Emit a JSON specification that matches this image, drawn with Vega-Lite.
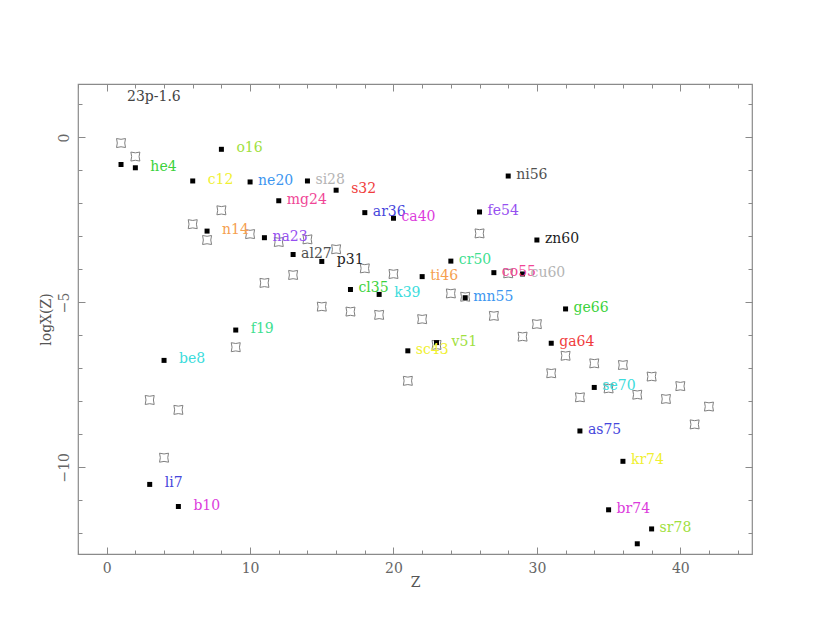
{
  "$schema": "https://vega.github.io/schema/vega-lite/v6.json",
  "autosize": {"type": "none"},
  "padding": {"left": 78, "top": 84, "right": 78, "bottom": 86},
  "width": 674,
  "height": 470,
  "background": "white",
  "title": {"text": "23p-1.6", "anchor": "start", "frame": "group", "orient": "top", "offset": -31, "dx": 49, "baseline": "alphabetic", "font": "DejaVu Serif", "fontSize": 14, "fontWeight": "normal", "color": "#444444"},
  "config": {
    "view": {"stroke": "#8a8a8a", "strokeWidth": 1.2},
    "axis": {"domain": false, "grid": false, "tickColor": "#8a8a8a", "labelColor": "#666666", "labelFont": "DejaVu Serif", "labelFontSize": 14, "titleFont": "DejaVu Serif", "titleFontSize": 14, "titleFontWeight": "normal", "titleColor": "#555555"}
  },
  "datasets": {
    "model": [
      {"Z": 1, "logX": -0.82, "iso": ""},
      {"Z": 2, "logX": -0.92, "iso": "he4"},
      {"Z": 3, "logX": -10.52, "iso": "li7"},
      {"Z": 4, "logX": -6.76, "iso": "be8"},
      {"Z": 5, "logX": -11.19, "iso": "b10"},
      {"Z": 6, "logX": -1.32, "iso": "c12"},
      {"Z": 7, "logX": -2.84, "iso": "n14"},
      {"Z": 8, "logX": -0.36, "iso": "o16"},
      {"Z": 9, "logX": -5.84, "iso": "f19"},
      {"Z": 10, "logX": -1.35, "iso": "ne20"},
      {"Z": 11, "logX": -3.04, "iso": "na23"},
      {"Z": 12, "logX": -1.92, "iso": "mg24"},
      {"Z": 13, "logX": -3.55, "iso": "al27"},
      {"Z": 14, "logX": -1.32, "iso": "si28"},
      {"Z": 15, "logX": -3.76, "iso": "p31"},
      {"Z": 16, "logX": -1.60, "iso": "s32"},
      {"Z": 17, "logX": -4.61, "iso": "cl35"},
      {"Z": 18, "logX": -2.28, "iso": "ar36"},
      {"Z": 19, "logX": -4.76, "iso": "k39"},
      {"Z": 20, "logX": -2.45, "iso": "ca40"},
      {"Z": 21, "logX": -6.47, "iso": "sc43"},
      {"Z": 22, "logX": -4.22, "iso": "ti46"},
      {"Z": 23, "logX": -6.22, "iso": "v51"},
      {"Z": 24, "logX": -3.75, "iso": "cr50"},
      {"Z": 25, "logX": -4.86, "iso": "mn55"},
      {"Z": 26, "logX": -2.26, "iso": "fe54"},
      {"Z": 27, "logX": -4.10, "iso": "co55"},
      {"Z": 28, "logX": -1.17, "iso": "ni56"},
      {"Z": 29, "logX": -4.14, "iso": "cu60"},
      {"Z": 30, "logX": -3.11, "iso": "zn60"},
      {"Z": 31, "logX": -6.24, "iso": "ga64"},
      {"Z": 32, "logX": -5.20, "iso": "ge66"},
      {"Z": 33, "logX": -8.90, "iso": "as75"},
      {"Z": 34, "logX": -7.58, "iso": "se70"},
      {"Z": 35, "logX": -11.29, "iso": "br74"},
      {"Z": 36, "logX": -9.82, "iso": "kr74"},
      {"Z": 37, "logX": -12.32, "iso": ""},
      {"Z": 38, "logX": -11.87, "iso": "sr78"}
    ],
    "ref": [
      {"Z": 1, "logX": -0.17}, {"Z": 2, "logX": -0.58}, {"Z": 3, "logX": -7.96}, {"Z": 4, "logX": -9.71},
      {"Z": 5, "logX": -8.26}, {"Z": 6, "logX": -2.63}, {"Z": 7, "logX": -3.11}, {"Z": 8, "logX": -2.21},
      {"Z": 9, "logX": -6.36}, {"Z": 10, "logX": -2.93}, {"Z": 11, "logX": -4.41}, {"Z": 12, "logX": -3.17},
      {"Z": 13, "logX": -4.17}, {"Z": 14, "logX": -3.09}, {"Z": 15, "logX": -5.13}, {"Z": 16, "logX": -3.39},
      {"Z": 17, "logX": -5.28}, {"Z": 18, "logX": -3.97}, {"Z": 19, "logX": -5.38}, {"Z": 20, "logX": -4.14},
      {"Z": 21, "logX": -7.38}, {"Z": 22, "logX": -5.51}, {"Z": 23, "logX": -6.29}, {"Z": 24, "logX": -4.73},
      {"Z": 25, "logX": -4.83}, {"Z": 26, "logX": -2.91}, {"Z": 27, "logX": -5.41}, {"Z": 28, "logX": -4.12},
      {"Z": 29, "logX": -6.04}, {"Z": 30, "logX": -5.66}, {"Z": 31, "logX": -7.15}, {"Z": 32, "logX": -6.62},
      {"Z": 33, "logX": -7.88}, {"Z": 34, "logX": -6.85}, {"Z": 35, "logX": -7.61}, {"Z": 36, "logX": -6.90},
      {"Z": 37, "logX": -7.80}, {"Z": 38, "logX": -7.25}, {"Z": 39, "logX": -7.93}, {"Z": 40, "logX": -7.54},
      {"Z": 41, "logX": -8.70}, {"Z": 42, "logX": -8.16}
    ]
  },
  "resolve": {"axis": {"x": "independent", "y": "independent"}},
  "layer": [
    {
      "data": {"name": "ref"},
      "mark": {"type": "point", "shape": "M-1,-1Q0,-0.65 1,-1Q0.65,0 1,1Q0,0.65 -1,1Q-0.65,0 -1,-1Z", "size": 81, "filled": false, "stroke": "#808080", "strokeWidth": 1, "opacity": 1},
      "encoding": {
        "x": {"field": "Z", "type": "quantitative", "scale": {"domain": [-2, 45], "nice": false, "zero": false},
              "axis": {"orient": "bottom", "values": [0, 10, 20, 30, 40], "tickSize": -7, "labelPadding": 14, "title": "Z", "titlePadding": 0, "labelFlush": false}},
        "y": {"field": "logX", "type": "quantitative", "scale": {"domain": [-12.63, 1.62], "nice": false, "zero": false},
              "axis": {"orient": "left", "values": [-10, -5, 0], "tickSize": -7, "labelAngle": -90, "labelPadding": 14, "title": "logX(Z)", "titlePadding": 4, "labelFlush": false}}
      }
    },
    {
      "data": {"name": "model"},
      "mark": {"type": "square", "size": 25, "filled": true, "color": "#000000", "opacity": 1},
      "encoding": {
        "x": {"field": "Z", "type": "quantitative", "axis": {"orient": "bottom", "values": [-2, 0, 2, 4, 6, 8, 10, 12, 14, 16, 18, 20, 22, 24, 26, 28, 30, 32, 34, 36, 38, 40, 42, 44], "tickSize": -4, "labels": false, "title": null}},
        "y": {"field": "logX", "type": "quantitative", "axis": {"orient": "left", "values": [-12, -11, -10, -9, -8, -7, -6, -5, -4, -3, -2, -1, 0, 1], "tickSize": -4, "labels": false, "title": null}}
      }
    },
    {
      "data": {"name": "model"},
      "transform": [{"filter": "length(datum.iso) == 4"}],
      "mark": {"type": "text", "align": "left", "baseline": "middle", "dx": 8, "dy": -1, "font": "DejaVu Serif", "fontSize": 14},
      "encoding": {
        "x": {"field": "Z", "type": "quantitative", "axis": {"orient": "top", "values": [0, 10, 20, 30, 40], "tickSize": -7, "labels": false, "title": null}},
        "y": {"field": "logX", "type": "quantitative", "axis": {"orient": "right", "values": [-10, -5, 0], "tickSize": -7, "labels": false, "title": null}},
        "text": {"field": "iso"},
        "color": {"field": "Z", "type": "ordinal", "legend": null,
          "scale": {"domain": [1,2,3,4,5,6,7,8,9,10,11,12,13,14,15,16,17,18,19,20,21,22,23,24,25,26,27,28,29,30,31,32,33,34,35,36,37,38],
                    "range": ["#f03c3c","#3cd23c","#4646dc","#3cdcdc","#dc3cdc","#f0f032","#f5a050","#a0e040","#40e090","#3c96f0","#9650f0","#f04696","#505050","#b4b4b4","#1e1e1e",
                              "#f03c3c","#3cd23c","#4646dc","#3cdcdc","#dc3cdc","#f0f032","#f5a050","#a0e040","#40e090","#3c96f0","#9650f0","#f04696","#505050","#b4b4b4","#1e1e1e",
                              "#f03c3c","#3cd23c","#4646dc","#3cdcdc","#dc3cdc","#f0f032","#f5a050","#a0e040"]}}
      }
    },
    {
      "data": {"name": "model"},
      "transform": [{"filter": "length(datum.iso) == 3"}],
      "mark": {"type": "text", "align": "left", "baseline": "middle", "dx": 15, "dy": -1, "font": "DejaVu Serif", "fontSize": 14},
      "encoding": {
        "x": {"field": "Z", "type": "quantitative", "axis": null},
        "y": {"field": "logX", "type": "quantitative", "axis": null},
        "text": {"field": "iso"},
        "color": {"field": "Z", "type": "ordinal", "legend": null}
      }
    },
    {
      "data": {"name": "model"},
      "mark": {"type": "square", "size": 25, "filled": true, "color": "#000000", "opacity": 0},
      "encoding": {
        "x": {"field": "Z", "type": "quantitative", "axis": {"orient": "top", "values": [-2, 0, 2, 4, 6, 8, 10, 12, 14, 16, 18, 20, 22, 24, 26, 28, 30, 32, 34, 36, 38, 40, 42, 44], "tickSize": -4, "labels": false, "title": null}},
        "y": {"field": "logX", "type": "quantitative", "axis": {"orient": "right", "values": [-12, -11, -10, -9, -8, -7, -6, -5, -4, -3, -2, -1, 0, 1], "tickSize": -4, "labels": false, "title": null}}
      }
    }
  ]
}
